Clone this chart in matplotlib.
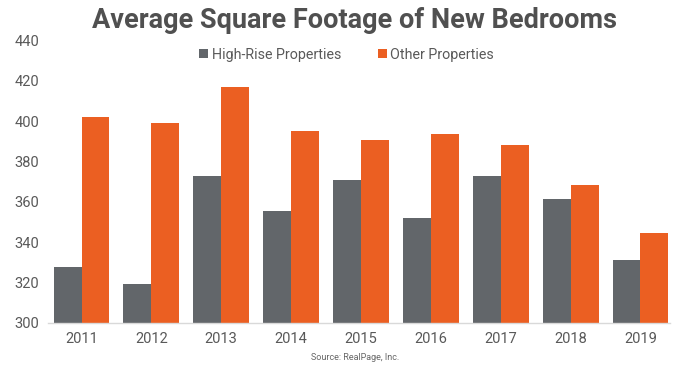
import matplotlib
matplotlib.use("Agg")
import matplotlib.pyplot as plt
import numpy as np

years = ["2011", "2012", "2013", "2014", "2015", "2016", "2017", "2018", "2019"]
high_rise = [327.7, 319.4, 373.0, 355.6, 370.7, 352.0, 373.0, 361.6, 331.0]
other = [402.0, 399.3, 417.0, 395.2, 390.7, 393.8, 388.2, 368.4, 344.4]
series_names = ["High-Rise Properties", "Other Properties"]
yticks = [300, 320, 340, 360, 380, 400, 420, 440]

c_hr = "#62666a"
c_ot = "#eb5f22"
txt = "#595959"

plt.rcParams['font.family'] = ['Roboto', 'DejaVu Sans']

fig = plt.figure(figsize=(6.8, 3.66), dpi=100)
ax = fig.add_axes([0.0701, 0.1183, 0.985 - 0.0701, 0.8888 - 0.1183])

x = np.arange(len(years))
w = 0.4
b1 = ax.bar(x - w / 2, high_rise, width=w, color=c_hr, label=series_names[0])
b2 = ax.bar(x + w / 2, other, width=w, color=c_ot, label=series_names[1])

ax.set_ylim(300, 440)
ax.set_xlim(-0.485, 8.42)
ax.set_yticks(yticks)
ax.set_xticks(x)
ax.set_xticklabels(years)
ax.tick_params(axis='both', length=0, labelsize=10.5, colors=txt)
ax.tick_params(axis='y', pad=6)
ax.tick_params(axis='x', pad=7)
for s in ["top", "right", "left"]:
    ax.spines[s].set_visible(False)
ax.spines["bottom"].set_color("#d9d9d9")
ax.spines["bottom"].set_linewidth(1)

fig.text(0.522, 0.945, "Average Square Footage of New Bedrooms", ha="center", va="center",
         fontsize=19.5, fontweight="bold", color="#505050")

fig.legend(handles=[b1, b2], loc="center", bbox_to_anchor=(0.51, 0.85), ncol=2,
           frameon=False, fontsize=10.3, handlelength=0.6, handleheight=0.6,
           handletextpad=0.25, columnspacing=2.6, labelcolor=txt)

fig.text(0.522, 0.022, "Source: RealPage, Inc.", ha="center", va="center",
         fontsize=6.5, color="#666666")

fig.savefig("out.png", dpi=100)
